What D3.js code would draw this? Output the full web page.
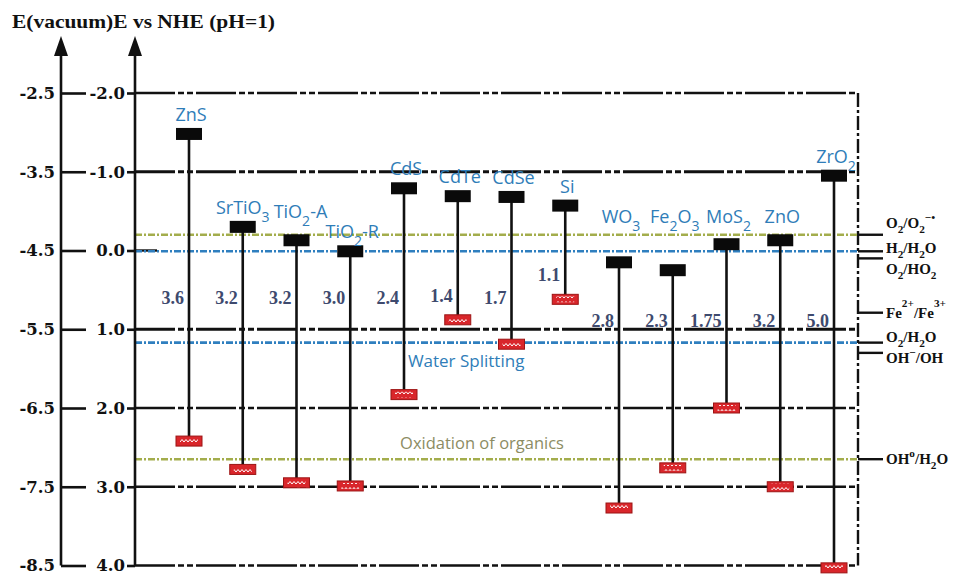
<!DOCTYPE html>
<html><head><meta charset="utf-8">
<script src="https://cdn.jsdelivr.net/npm/d3@7"></script>
<style>body{margin:0;background:#fff}svg{display:block}</style>
</head><body>
<svg id="c" width="959" height="575"></svg>
<script>
// ---- data ----
const materials = ["ZnS","SrTiO3","TiO2-A","TiO2-R","CdS","CdTe","CdSe","Si","WO3","Fe2O3","MoS2","ZnO","ZrO2"];
const materialLabels = ["ZnS","SrTiO{_3}","TiO{_2}-A","TiO{_2}-R","CdS","CdTe","CdSe","Si","WO{_3}","Fe{_2}O{_3}","MoS{_2}","ZnO","ZrO{_2}"];
const cbEdge = [-1.48,-0.30,-0.13,0.01,-0.79,-0.69,-0.68,-0.57,0.15,0.25,-0.08,-0.13,-0.95];
const vbEdge = [2.42,2.78,2.95,2.99,1.83,0.88,1.19,0.62,3.27,2.76,2.00,3.00,4.03];
const gapLabels = ["3.6","3.2","3.2","3.0","2.4","1.4","1.7","1.1","2.8","2.3","1.75","3.2","5.0"];
const nheTicks = [-2,-1,0,1,2,3,4];
const vacTicks = [-2.5,-3.5,-4.5,-5.5,-6.5,-7.5,-8.5];
const coupleLabels = ["O{_2}/O{_2}{^−•}","H{_2}/H{_2}O","O{_2}/HO{_2}","Fe{^2+}/Fe{^3+}","O{_2}/H{_2}O","OH{^−}/OH","OH{^o}/H{_2}O"];
const coupleE = [-0.20,0.01,0.10,0.79,1.17,1.30,2.65];
const coupleGroup = ["organics","water","","","water","","organics"];
const groupTitles = {water:"Water Splitting", organics:"Oxidation of organics"};

// ---- layout ----
const svg = d3.select("#c");
const x0 = 135, x1 = 858, xVac = 61;
const y = d3.scaleLinear().domain([-2,4]).range([93,565.5]);
const yVac = d3.scaleLinear().domain([-2.5,-8.5]).range([93,565.5]);
const x = d3.scalePoint().domain(materials).range([189,834]);
const groupColor = {water:"#2f7fbf", organics:"#a3ad4c"};
const textBlue = "#2f7db8";

function rich(sel, str, scale, subDy, supDy) {
  const parts = str.split(/(\{[_^][^}]*\})/).filter(s => s);
  let off = 0;
  parts.forEach(p => {
    const m = p.match(/^\{([_^])(.*)\}$/);
    if (m) {
      const d = m[1] === "_" ? subDy : -supDy;
      sel.append("tspan").attr("font-size", (scale*100)+"%").attr("dy", d - off).text(m[2]);
      off = d;
    } else {
      sel.append("tspan").attr("dy", -off).text(p);
      off = 0;
    }
  });
}

const defs = svg.append("defs");
const pat = defs.append("pattern").attr("id","zz").attr("patternUnits","userSpaceOnUse")
  .attr("width",4).attr("height",6);
pat.append("rect").attr("width",4).attr("height",6).attr("fill","#d9262b");
pat.append("path").attr("d","M0,4 L2,1.5 L4,4").attr("stroke","#fff").attr("stroke-width",1).attr("fill","none");

// ---- horizontal grid lines ----
svg.append("g").selectAll("line").data(nheTicks.filter(v => v !== 0)).join("line")
  .attr("x1", x0).attr("x2", x1).attr("y1", d => y(d)).attr("y2", d => y(d))
  .attr("stroke","#111").attr("stroke-width", d => Math.abs(d) === 1 ? 3.2 : 2.4)
  .attr("stroke-dasharray","40,3,6,3,6,3");
svg.append("line").attr("x1",x0).attr("x2",x0+22).attr("y1",y(0)).attr("y2",y(0))
  .attr("stroke","#111").attr("stroke-width",2.4);

svg.append("line").attr("x1",x1).attr("x2",x1).attr("y1",y(-2)).attr("y2",y(4))
  .attr("stroke","#111").attr("stroke-width",2.4).attr("stroke-dasharray","14,3,3,3");

// redox couple lines
const couples = coupleE.map((e,i) => ({e, label: coupleLabels[i], group: coupleGroup[i]}));
svg.append("g").selectAll("line").data(couples.filter(c => c.group)).join("line")
  .attr("x1", x0).attr("x2", x1).attr("y1", d => y(d.e)).attr("y2", d => y(d.e))
  .attr("stroke", d => groupColor[d.group]).attr("stroke-width", 2.6)
  .attr("stroke-dasharray","7,2,2,2");

svg.append("g").selectAll("line").data(couples).join("line")
  .attr("x1", x1).attr("x2", x1+25).attr("y1", d => y(d.e)).attr("y2", d => y(d.e))
  .attr("stroke","#111").attr("stroke-width",2.4);

const minGap = 21;
let pos = couples.map(c => ({c, y: y(c.e)}));
let clusters = pos.map(p => ({items:[p], mean:p.y}));
let merged = true;
while (merged) {
  merged = false;
  for (let i = 0; i < clusters.length - 1; i++) {
    const a = clusters[i], b = clusters[i+1];
    const aEnd = a.mean + (a.items.length-1)*minGap/2;
    const bStart = b.mean - (b.items.length-1)*minGap/2;
    if (bStart - aEnd < minGap) {
      const items = a.items.concat(b.items);
      clusters.splice(i, 2, {items, mean: d3.mean(items, p => p.y)});
      merged = true; break;
    }
  }
}
clusters.forEach(cl => cl.items.forEach((p,k) => p.ly = cl.mean + (k - (cl.items.length-1)/2)*minGap));
const lab = svg.append("g").attr("font-family","'Liberation Serif',serif").attr("font-weight","bold")
  .attr("font-size",15).attr("fill","#111");
pos.forEach(p => {
  const t = lab.append("text").attr("x", x1+28).attr("y", p.ly + 5 - (p.c.label.includes("{^−•}") ? 4 : 0));
  rich(t, p.c.label, 0.75, 5, p.c.label.startsWith("Fe") ? 11 : 7);
});

svg.append("text").attr("x", x0 + 0.458*(x1-x0)).attr("y", y(couples[4].e) + 24)
  .attr("text-anchor","middle").attr("font-family","'Open Sans',sans-serif").attr("font-size",17)
  .attr("fill", textBlue).text(groupTitles.water);
svg.append("text").attr("x", x0 + 0.48*(x1-x0)).attr("y", y(couples[6].e) - 10)
  .attr("text-anchor","middle").attr("font-family","'Open Sans',sans-serif").attr("font-size",16.5)
  .attr("fill", "#8c8c63").text(groupTitles.organics);

// ---- axes ----
function arrowAxis(xa) {
  svg.append("line").attr("x1",xa).attr("x2",xa).attr("y1",y(4)).attr("y2",52)
    .attr("stroke","#111").attr("stroke-width",2.6);
  svg.append("path").attr("d",`M${xa},36 L${xa-7},56 L${xa+7},56 Z`).attr("fill","#111");
}
arrowAxis(xVac); arrowAxis(x0);

const vacAxis = d3.axisLeft(yVac).tickValues(vacTicks).tickSizeInner(-25).tickSizeOuter(0)
  .tickPadding(6).tickFormat(d => d.toFixed(1));
const gv = svg.append("g").attr("transform",`translate(${xVac},0)`).call(vacAxis);
const nheAxis = d3.axisLeft(y).tickValues(nheTicks).tickSizeInner(8).tickSizeOuter(0)
  .tickPadding(2).tickFormat(d => d.toFixed(1));
const gn = svg.append("g").attr("transform",`translate(${x0},0)`).call(nheAxis);
[gv, gn].forEach(g => {
  g.select(".domain").remove();
  g.selectAll(".tick line").attr("stroke","#111").attr("stroke-width",2.6);
  g.selectAll(".tick text").attr("font-family","'DejaVu Serif',serif").attr("font-weight","bold")
    .attr("font-size",16.5).attr("fill","#111");
});

svg.append("text").attr("x",12).attr("y",28).attr("font-family","'Liberation Serif',serif")
  .attr("font-weight","bold").attr("font-size",19).attr("fill","#111")
  .attr("textLength",263).attr("lengthAdjust","spacingAndGlyphs")
  .text("E(vacuum)E vs NHE (pH=1)");

// ---- materials ----
const mats = materials.map((m,i) => ({m, i, label: materialLabels[i], cb: cbEdge[i], vb: vbEdge[i], gap: gapLabels[i]}));
const g = svg.append("g");
g.selectAll("line.stem").data(mats).join("line").attr("class","stem")
  .attr("x1", d => x(d.m)).attr("x2", d => x(d.m)).attr("y1", d => y(d.cb)).attr("y2", d => y(d.vb))
  .attr("stroke","#111").attr("stroke-width",2.6);
g.selectAll("rect.cb").data(mats).join("rect").attr("class","cb")
  .attr("x", d => x(d.m) - 13).attr("y", d => y(d.cb) - 6).attr("width",26).attr("height",12)
  .attr("fill","#0a0a0a");
g.selectAll("rect.vb").data(mats).join("rect").attr("class","vb")
  .attr("x", d => x(d.m) - 13).attr("y", d => y(d.vb) - 5).attr("width",26).attr("height",10)
  .attr("fill","#d9262b").attr("stroke","#9c1414").attr("stroke-width",1);
g.selectAll("rect.vbi").data(mats).join("rect").attr("class","vbi")
  .attr("x", d => x(d.m) - 9).attr("y", d => y(d.vb) - 3).attr("width",18).attr("height",6)
  .attr("fill","url(#zz)");

// material name labels with simple collision handling
const ml = svg.append("g").attr("font-family","'Open Sans',sans-serif").attr("font-size",18)
  .attr("fill", textBlue).attr("text-anchor","middle");
const L = mats.map(d => {
  const t = ml.append("text");
  rich(t, d.label, 0.78, 8, 0);
  const w = t.node().getComputedTextLength();
  const top = y(d.cb) - 13;
  return {t, w, cx: x(d.m) + 2, y: d.i >= 8 ? Math.min(top, 223) : top};
});
for (let i = L.length - 2; i >= 0; i--) {
  const a = L[i], b = L[i+1];
  const ov = (a.cx + a.w/2) - (b.cx - b.w/2);
  const dy = b.y - a.y;
  if (ov > -6 && dy >= 8 && dy < 20) a.y = b.y - 20;
}
for (let i = 0; i < L.length - 1; i++) {
  const a = L[i], b = L[i+1];
  const ov = (a.cx + a.w/2) - (b.cx - b.w/2);
  if (ov > -4 && Math.abs(a.y - b.y) < 8) { const s = (ov + 4)/2; a.cx -= s; b.cx += s; }
}
L.forEach(l => l.t.attr("x", l.cx).attr("y", l.y));

const gl = svg.append("g").attr("font-family","'Liberation Serif',serif").attr("font-weight","bold")
  .attr("font-size",18).attr("fill","#3e4a6e").attr("text-anchor","end");
gl.selectAll("text").data(mats).join("text")
  .attr("x", d => x(d.m) - 5)
  .attr("y", d => d.i >= 8 ? y(1) - 2 : Math.min(304, y(d.vb) - 18))
  .text(d => d.gap);
</script>
</body></html>
